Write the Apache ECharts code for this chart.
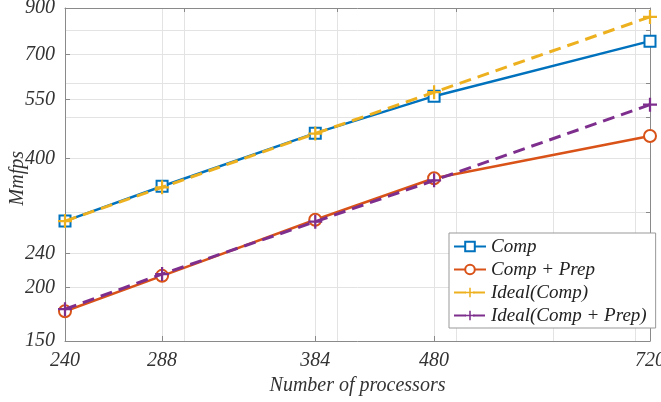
<!DOCTYPE html>
<html><head><meta charset="utf-8">
<script src="https://cdn.jsdelivr.net/npm/echarts@6/dist/echarts.min.js"></script>
<style>html,body{margin:0;padding:0;background:#fff}#c{width:661px;height:402px}</style>
</head><body><div id="c"></div>
<script>
const processors = [240, 288, 384, 480, 720];
const comp = [286, 345, 459, 560, 753];
const compPrep = [176, 213, 288, 360, 452];
const idealComp = [286, 343, 458, 572, 858];
const idealCompPrep = [178, 215, 285, 356, 535];
const yTicks = [150, 200, 240, 400, 550, 700, 900];
const yMinorGrid = [300, 500, 600, 800];
const xTicks = [240, 288, 384, 480, 720];
const xMinorGrid = [300, 400, 500, 600, 700];
const yTitle = 'Mmfps';
const xTitle = 'Number of processors';

const font = 'Liberation Serif';
const plus = 'path://M4.2,0H5.8V4.2H10V5.8H5.8V10H4.2V5.8H0V4.2H4.2Z';
const pairs = v => processors.map((p, i) => [p, v[i]]);
const gridColor = '#e3e3e3';
const axisColor = '#8a8a8a';

const chart = echarts.init(document.getElementById('c'));
chart.setOption({
  animation: false,
  backgroundColor: '#fff',
  grid: {left: 65, right: 11, top: 8, bottom: 61, containLabel: false, outerBoundsMode: 'none'},
  graphic: [{
    type: 'text', left: 8, top: 151,
    rotation: Math.PI / 2, originX: 0, originY: 0,
    style: {text: yTitle, fontFamily: font, fontStyle: 'italic', fontSize: 20, fill: '#333'}
  }],
  xAxis: [{
    type: 'log', min: 240, max: 720, logBase: 10,
    name: xTitle, nameLocation: 'middle', nameGap: 34,
    nameTextStyle: {fontFamily: font, fontStyle: 'italic', fontSize: 20, color: '#333'},
    axisLine: {show: true, lineStyle: {color: axisColor}},
    axisTick: {show: true, inside: true, length: 5, customValues: xTicks, lineStyle: {color: axisColor}},
    axisLabel: {customValues: xTicks, fontFamily: font, fontStyle: 'italic', fontSize: 20, color: '#333', margin: 10},
    splitLine: {show: true, lineStyle: {color: gridColor}}
  }, {
    type: 'log', min: 240, max: 720, logBase: 10, position: 'top',
    axisLine: {show: true, lineStyle: {color: axisColor}},
    axisTick: {show: true, inside: true, length: 4, customValues: xMinorGrid, lineStyle: {color: axisColor}},
    axisLabel: {show: false, customValues: xMinorGrid},
    splitLine: {show: true, lineStyle: {color: gridColor}}
  }],
  yAxis: [{
    type: 'log', min: 150, max: 900, logBase: 10,
    axisLine: {show: true, lineStyle: {color: axisColor}},
    axisTick: {show: true, inside: true, length: 5, customValues: yTicks, lineStyle: {color: axisColor}},
    axisLabel: {customValues: yTicks, fontFamily: font, fontStyle: 'italic', fontSize: 20, color: '#333', margin: 10},
    splitLine: {show: true, lineStyle: {color: gridColor}}
  }, {
    type: 'log', min: 150, max: 900, logBase: 10, position: 'right',
    axisLine: {show: true, lineStyle: {color: axisColor}},
    axisTick: {show: true, inside: true, length: 4, customValues: yMinorGrid, lineStyle: {color: axisColor}},
    axisLabel: {show: false, customValues: yMinorGrid},
    splitLine: {show: true, lineStyle: {color: gridColor}}
  }],
  legend: {
    orient: 'vertical', left: 449, top: 233,
    backgroundColor: '#fff', borderColor: '#999', borderWidth: 1,
    padding: [4, 9, 3, 4], itemGap: 4, itemWidth: 32, itemHeight: 12,
    textStyle: {fontFamily: font, fontStyle: 'italic', fontSize: 19, color: '#222'},
    data: ['Comp', 'Comp + Prep', 'Ideal(Comp)', 'Ideal(Comp + Prep)']
  },
  series: [
    {name: 'Ideal(Comp)', type: 'line', data: pairs(idealComp), z: 3,
     lineStyle: {color: '#EDB120', width: 3, type: [12, 7]}, itemStyle: {color: '#EDB120'},
     symbol: plus, symbolSize: 14},
    {name: 'Ideal(Comp + Prep)', type: 'line', data: pairs(idealCompPrep), z: 3,
     lineStyle: {color: '#7E2F8E', width: 3, type: [12, 7]}, itemStyle: {color: '#7E2F8E'},
     symbol: plus, symbolSize: 14},
    {name: 'Comp', type: 'line', data: pairs(comp), z: 2,
     lineStyle: {color: '#0072BD', width: 2.5}, itemStyle: {color: '#0072BD', borderWidth: 2.5},
     symbol: 'emptyRect', symbolSize: 11},
    {name: 'Comp + Prep', type: 'line', data: pairs(compPrep), z: 2,
     lineStyle: {color: '#D95319', width: 2.5}, itemStyle: {color: '#D95319', borderWidth: 2.5},
     symbol: 'emptyCircle', symbolSize: 12}
  ]
});
</script></body></html>
